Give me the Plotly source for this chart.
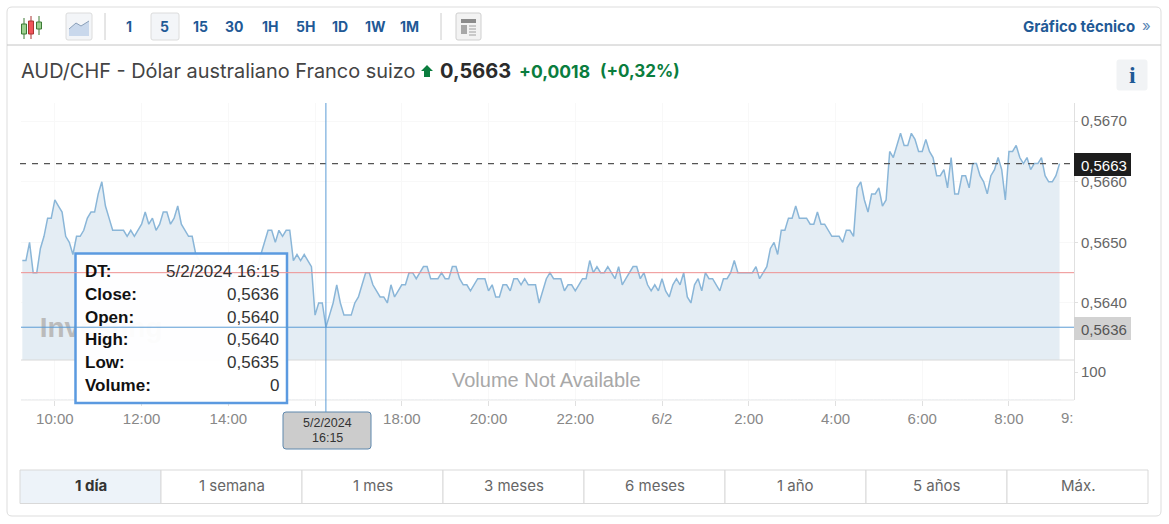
import pandas as pd
import plotly.graph_objects as go

W, H = 1169, 524

# 5 minute closes, 5/2/2024 9:15 to 6/2/2024 9:10
close = [
    0.5647, 0.5647, 0.5650, 0.5645, 0.5645, 0.5649, 0.5651, 0.5654, 0.5654, 0.5657,
    0.5656, 0.5655, 0.5651, 0.5650, 0.5648, 0.5651, 0.5651, 0.5652, 0.5654, 0.5655,
    0.5655, 0.5658, 0.5660, 0.5656, 0.5654, 0.5652, 0.5652, 0.5652, 0.5652, 0.5651,
    0.5652, 0.5651, 0.5652, 0.5653, 0.5655, 0.5653, 0.5654, 0.5652, 0.5653, 0.5655,
    0.5655, 0.5653, 0.5654, 0.5656, 0.5653, 0.5652, 0.5651, 0.5651, 0.5648, 0.5647,
    0.5646, 0.5645, 0.5646, 0.5647, 0.5645, 0.5644, 0.5645, 0.5646, 0.5644, 0.5645,
    0.5646, 0.5647, 0.5646, 0.5645, 0.5647, 0.5646, 0.5648, 0.5650, 0.5652, 0.5652,
    0.5650, 0.5652, 0.5651, 0.5652, 0.5652, 0.5647, 0.5648, 0.5647, 0.5648, 0.5647,
    0.5646, 0.5638, 0.5640, 0.5640, 0.5636, 0.5638, 0.5640, 0.5643, 0.5640, 0.5638,
    0.5638, 0.5638, 0.5640, 0.5641, 0.5643, 0.5645, 0.5645, 0.5643, 0.5642, 0.5641,
    0.5641, 0.5640, 0.5643, 0.5641, 0.5642, 0.5643, 0.5643, 0.5645, 0.5645, 0.5644,
    0.5645, 0.5646, 0.5646, 0.5644, 0.5644, 0.5644, 0.5645, 0.5644, 0.5644, 0.5646,
    0.5646, 0.5644, 0.5643, 0.5643, 0.5642, 0.5643, 0.5644, 0.5644, 0.5644, 0.5642,
    0.5643, 0.5641, 0.5641, 0.5643, 0.5643, 0.5642, 0.5644, 0.5644, 0.5643, 0.5644,
    0.5643, 0.5643, 0.5643, 0.5640, 0.5642, 0.5644, 0.5645, 0.5644, 0.5644, 0.5644,
    0.5642, 0.5643, 0.5643, 0.5642, 0.5643, 0.5644, 0.5644, 0.5647, 0.5645, 0.5646,
    0.5645, 0.5645, 0.5646, 0.5645, 0.5644, 0.5646, 0.5643, 0.5644, 0.5645, 0.5646,
    0.5646, 0.5644, 0.5645, 0.5643, 0.5642, 0.5643, 0.5642, 0.5644, 0.5642, 0.5641,
    0.5643, 0.5644, 0.5643, 0.5645, 0.5641, 0.5640, 0.5643, 0.5644, 0.5642, 0.5645,
    0.5644, 0.5644, 0.5643, 0.5642, 0.5644, 0.5644, 0.5645, 0.5647, 0.5645, 0.5645,
    0.5645, 0.5645, 0.5645, 0.5646, 0.5644, 0.5645, 0.5646, 0.5649, 0.5650, 0.5648,
    0.5652, 0.5652, 0.5654, 0.5654, 0.5656, 0.5654, 0.5654, 0.5654, 0.5653, 0.5653,
    0.5655, 0.5653, 0.5653, 0.5652, 0.5651, 0.5651, 0.5651, 0.5650, 0.5652, 0.5652,
    0.5651, 0.5659, 0.5660, 0.5657, 0.5655, 0.5658, 0.5658, 0.5659, 0.5656, 0.5657,
    0.5665, 0.5664, 0.5666, 0.5668, 0.5666, 0.5666, 0.5668, 0.5667, 0.5665, 0.5665,
    0.5667, 0.5665, 0.5664, 0.5661, 0.5661, 0.5662, 0.5659, 0.5664, 0.5658, 0.5658,
    0.5661, 0.5661, 0.5659, 0.5663, 0.5663, 0.5661, 0.5660, 0.5658, 0.5661, 0.5662,
    0.5664, 0.5662, 0.5657, 0.5665, 0.5665, 0.5666, 0.5664, 0.5663, 0.5664, 0.5662,
    0.5663, 0.5663, 0.5664, 0.5661, 0.5660, 0.5660, 0.5661, 0.5663,
]
volume = [0] * len(close)
times = pd.date_range("2024-02-05 09:15", periods=len(close), freq="5min")

last_price = 0.5663
prev_close = 0.5645
cross_time = "2024-02-05 16:15"
cross_price = 0.5636

price_ticks = [0.5640, 0.5650, 0.5660, 0.5670]
time_ticks = pd.date_range("2024-02-05 10:00", "2024-02-06 08:00", freq="2h")
time_labels = ["10:00", "12:00", "14:00", "16:00", "18:00", "20:00", "22:00",
               "6/2", "2:00", "4:00", "6:00", "8:00"]

intervals = ["1", "5", "15", "30", "1H", "5H", "1D", "1W", "1M"]
interval_x = [129, 165, 200, 234, 270, 305, 340, 375, 410]
periods = ["1 día", "1 semana", "1 mes", "3 meses", "6 meses", "1 año", "5 años", "Máx."]
tooltip_rows = [("DT:", "5/2/2024 16:15"), ("Close:", "0,5636"), ("Open:", "0,5640"),
                ("High:", "0,5640"), ("Low:", "0,5635"), ("Volume:", "0")]

UI = "Inter"
ARIAL = "Liberation Sans"
BLUE = "#1f5a96"
GREEN = "#0a7d3e"
CROSS = "#5b9bd5"


def px(x):
    return x / W


def py(y):
    return 1 - y / H


shapes = []
notes = []


def rect(x0, y0, x1, y1, fill="rgba(0,0,0,0)", line="rgba(0,0,0,0)", lw=1):
    shapes.append(dict(type="rect", xref="paper", yref="paper", x0=px(x0), x1=px(x1),
                       y0=py(y0), y1=py(y1), fillcolor=fill, line=dict(color=line, width=lw),
                       layer="above"))


def rrect(x0, y0, x1, y1, r, fill="rgba(0,0,0,0)", line="#ddd", lw=1):
    path = (f"M {px(x0 + r)} {py(y0)} L {px(x1 - r)} {py(y0)} Q {px(x1)} {py(y0)} {px(x1)} {py(y0 + r)} "
            f"L {px(x1)} {py(y1 - r)} Q {px(x1)} {py(y1)} {px(x1 - r)} {py(y1)} "
            f"L {px(x0 + r)} {py(y1)} Q {px(x0)} {py(y1)} {px(x0)} {py(y1 - r)} "
            f"L {px(x0)} {py(y0 + r)} Q {px(x0)} {py(y0)} {px(x0 + r)} {py(y0)} Z")
    shapes.append(dict(type="path", xref="paper", yref="paper", path=path, fillcolor=fill,
                       line=dict(color=line, width=lw), layer="above"))


def seg(x0, y0, x1, y1, color="#ddd", lw=1):
    shapes.append(dict(type="line", xref="paper", yref="paper", x0=px(x0), x1=px(x1),
                       y0=py(y0), y1=py(y1), line=dict(color=color, width=lw), layer="above"))


def poly(points, fill="rgba(0,0,0,0)", line="rgba(0,0,0,0)", lw=1, close_it=True):
    path = "M " + " L ".join(f"{px(x)} {py(y)}" for x, y in points) + (" Z" if close_it else "")
    shapes.append(dict(type="path", xref="paper", yref="paper", path=path, fillcolor=fill,
                       line=dict(color=line, width=lw), layer="above"))


def text(x, y, s, size=14, color="#333", anchor="center", family=UI, bold=False):
    notes.append(dict(xref="paper", yref="paper", x=px(x), y=py(y), text=f"<b>{s}</b>" if bold else s,
                      showarrow=False, xanchor=anchor, yanchor="middle", borderpad=0,
                      font=dict(size=size, color=color, family=family)))


# card and toolbar
rrect(7, 7, 1161, 516, 5)
seg(7, 45, 1161, 45, "#c4c4c4")
seg(105, 13, 105, 40, "#ccc")
seg(441, 13, 441, 40, "#ccc")

# candle icon
for cx, top, bottom, y0, y1, col, edge in [(24, 18, 39, 24, 34, "#9bd08f", "#3c7a35"),
                                           (31, 16, 39, 21, 34, "#f0545a", "#a33"),
                                           (39, 16, 35, 22, 29, "#9bd08f", "#3c7a35")]:
    seg(cx, top, cx, bottom, edge)
    rect(cx - 2.5, y0, cx + 2.5, y1, col, edge)

# area chart icon
rrect(66, 13, 92, 40, 2, "#f3f5f8", "#dcdcdc")
poly([(69, 36), (69, 29), (76, 23), (81, 26), (89, 21), (89, 36)], "#c9d8ec")
poly([(69, 29), (76, 23), (81, 26), (89, 21)], line="#8a9fb8", close_it=False)

# interval buttons
rrect(151, 13, 179, 40, 2, "#f3f5f8", "#dcdcdc")
for label, x in zip(intervals, interval_x):
    text(x, 26.5, label, 14, BLUE, bold=True)

# news icon
rrect(456, 13, 481, 40, 2, "#f3f3f3", "#cfcfcf")
rect(461, 19, 476, 23, "#8c8c8c")
rect(461, 25, 467, 34, "#a8a8a8")
for y in (26, 29, 32, 35):
    seg(469, y, 476, y, "#a0a0a0")

text(1136, 26, "Gráfico técnico", 15, BLUE, "right", bold=True)
text(1146, 25, "»", 15, "#5a86b5")

# title line
text(19.5, 71, "AUD/CHF - Dólar australiano Franco suizo", 19.9, "#444", "left")
poly([(427, 65), (433, 71), (430, 71), (430, 77), (424, 77), (424, 71), (421, 71)], GREEN)
text(439, 71, "0,5663", 20, "#2b2b2b", "left", bold=True)
text(518, 71, "+0,0018", 17.5, GREEN, "left", bold=True)
text(598.5, 71, "(+0,32%)", 17, GREEN, "left", bold=True)
rrect(1117, 60, 1147, 90, 2, "#f1f3f5", "#f1f3f5")
text(1132, 75, "i", 24, BLUE, family="Liberation Serif", bold=True)

# panel separator and right axis extras
seg(21, 360, 1074, 360, "#d8d8d8")
seg(21, 400, 1074, 400, "#e8e8e8")
text(546, 380, "Volume Not Available", 20, "#a8a8a8", family=ARIAL)
text(1060, 417, "9:", 15, "#888", "left", family=ARIAL)

# price labels on the axis
rect(1074, 153, 1131, 176, "#1d1d1d")
text(1080, 165, "0,5663", 15, "#fff", "left", family=ARIAL)
rect(1074, 317, 1131, 340, "#d2d2d2")
text(1080, 329, "0,5636", 15, "#555", "left", family=ARIAL)

# tooltip
rect(75.5, 253.5, 287, 403, "rgba(255,255,255,0.95)", "#5b9ae0", 2.5)
for (label, value), y in zip(tooltip_rows, [271, 294, 317, 339, 362, 385]):
    text(83.5, y, label, 17, "#111", "left", ARIAL, True)
    text(280, y, value, 17, "#333", "right", ARIAL)

# date flag under the crosshair
rrect(283, 412, 371, 449, 3, "#cccccc", "#5f88ad")
text(327, 423, "5/2/2024", 12.5, "#333", family=ARIAL)
text(327, 438, "16:15", 12.5, "#333", family=ARIAL)

# period selector
for i, label in enumerate(periods):
    x0 = 20 + i * 141
    rect(x0, 470, x0 + 141, 503.5, "#edf3f9" if i == 0 else "#ffffff", "#d9d9d9")
    text(x0 + 70.5, 485, label, 15, "#333" if i == 0 else "#666", bold=i == 0)

# reference lines, in data coordinates
shapes.append(dict(type="line", xref="paper", yref="y", x0=px(21), x1=px(1074), y0=prev_close, y1=prev_close,
                   line=dict(color="#ee9090", width=1)))
shapes.append(dict(type="line", xref="paper", yref="y", x0=px(20), x1=px(1074), y0=last_price, y1=last_price,
                   line=dict(color="#555", width=1.2, dash="6px,6px")))
shapes.append(dict(type="line", xref="paper", yref="y", x0=px(21), x1=px(1074), y0=cross_price, y1=cross_price,
                   line=dict(color=CROSS, width=1)))
shapes.append(dict(type="line", xref="x", yref="paper", x0=cross_time, x1=cross_time, y0=py(103), y1=py(412),
                   line=dict(color=CROSS, width=1)))

fig = go.Figure()
fig.add_trace(go.Scatter(x=times, y=close, mode="lines", fill="tozeroy", fillcolor="#e4edf4",
                         line=dict(color="#8ab6d8", width=1.5), hoverinfo="skip"))
fig.add_trace(go.Scatter(x=["2024-02-05 11:04"], y=[0.56355], mode="text", text=["<b>Investing</b>"],
                         textfont=dict(size=28, color="#bbbbbb", family=ARIAL), hoverinfo="skip"))
fig.add_trace(go.Bar(x=times, y=volume, yaxis="y2", hoverinfo="skip", marker_color="#e4edf4"))

fig.update_layout(
    width=W, height=H, margin=dict(l=0, r=0, t=0, b=0, autoexpand=False),
    paper_bgcolor="#fff", plot_bgcolor="#fff", showlegend=False, hovermode=False,
    separators=",.", shapes=shapes, annotations=notes,
    font=dict(family=ARIAL, size=15, color="#777"),
    xaxis=dict(domain=[px(21), px(1074)], anchor="y2", type="date",
               range=["2024-02-05 09:13:10", "2024-02-06 09:30:00"],
               tickmode="array", tickvals=list(time_ticks), ticktext=time_labels,
               ticks="outside", ticklen=5, tickcolor="#e0e0e0", showline=False,
               showgrid=True, gridcolor="#f8f8f8", tickfont=dict(size=15, color="#888")),
    yaxis=dict(domain=[py(360), py(103)], anchor="x", side="right",
               range=[0.563059, 0.567300], tickmode="array", tickvals=price_ticks, tickformat=".4f",
               ticks="outside", ticklen=3, tickcolor="#e0e0e0", showline=True, linecolor="#e0e0e0",
               showgrid=True, gridcolor="#f8f8f8", zeroline=False, tickfont=dict(size=15, color="#666")),
    yaxis2=dict(domain=[py(400), py(360)], anchor="x", side="right",
                range=[0, 142.86], tickmode="array", tickvals=[100], ticktext=["100"],
                ticks="outside", ticklen=3, tickcolor="#e0e0e0", showline=True, linecolor="#e0e0e0",
                showgrid=False, zeroline=False, tickfont=dict(size=15, color="#666")),
)

fig.write_html("out.html", config={"displayModeBar": False},
               post_script="document.body.style.margin='0';")
